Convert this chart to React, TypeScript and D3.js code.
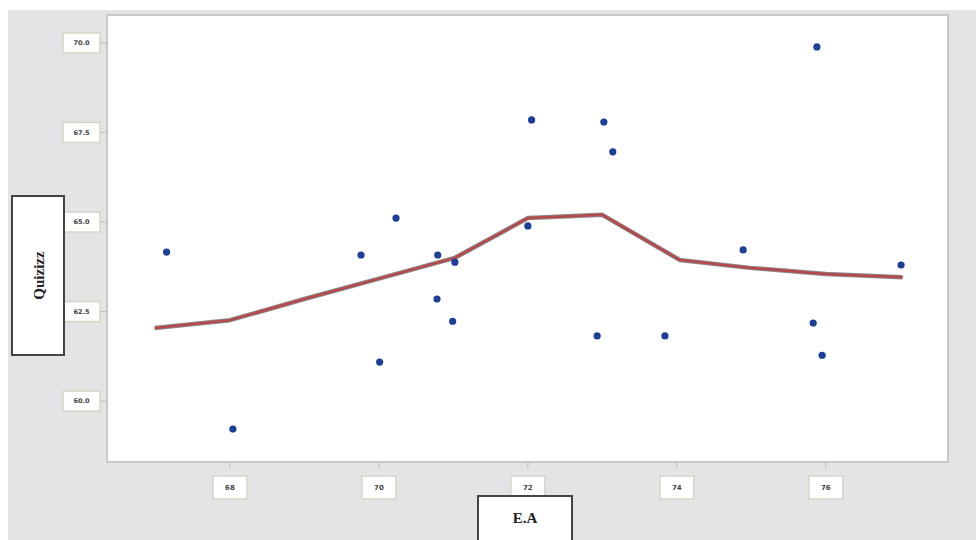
import React from "react";
import * as d3 from "d3";

const eaValues = [67.15, 68.04, 69.76, 70.01, 70.23, 70.79, 70.78, 71.02, 70.99, 72.0, 72.05, 72.93, 73.02, 73.14, 73.84, 74.89, 75.83, 75.88, 75.95, 77.01];
const quizizzValues = [64.16, 59.22, 64.08, 61.09, 65.11, 64.08, 62.85, 63.88, 62.23, 64.89, 67.85, 61.82, 67.79, 66.96, 61.82, 64.22, 62.18, 69.89, 61.28, 63.8];

const fitX = [66.99, 68.0, 69.0, 70.0, 71.02, 72.0, 73.0, 74.04, 74.98, 76.0, 77.03];
const fitY = [62.04, 62.26, 62.85, 63.42, 64.0, 65.11, 65.2, 63.94, 63.72, 63.55, 63.46];

const xTicks = [68, 70, 72, 74, 76];
const yTicks = [60, 62.5, 65, 67.5, 70];

export default function App() {
  const W = 976, H = 540;
  const left = 107, right = 948, top = 15, bottom = 462;
  const x = d3.scaleLinear().domain([66.35, 77.64]).range([left, right]);
  const y = d3.scaleLinear().domain([58.3, 70.78]).range([bottom, top]);
  const line = d3.line<number>().x((_, i) => x(fitX[i])).y((d) => y(d)).curve(d3.curveLinear);
  const path = line(fitY) || "";
  return (
    <svg width={W} height={H} style={{ position: "absolute", left: 0, top: 0 }}>
      <rect x={0} y={0} width={W} height={H} fill="#ffffff" />
      <rect x={8} y={10} width={W - 8} height={H - 10} fill="#e4e4e4" />
      <rect x={left} y={top} width={right - left} height={bottom - top} fill="#ffffff" stroke="#c8c8c8" strokeWidth={2} />
      {yTicks.map((t) => (
        <g key={"y" + t}>
          <line x1={left - 6} x2={left} y1={y(t)} y2={y(t)} stroke="#bbbbbb" />
          <rect x={63} y={y(t) - 10} width={37} height={20} fill="#ffffff" stroke="#cfd8c4" strokeWidth={1.5} />
          <text x={81.5} y={y(t)} dy="0.35em" textAnchor="middle" fontSize={6.5} fontWeight="bold" fontFamily="DejaVu Sans" fill="#444">
            {t.toFixed(1)}
          </text>
        </g>
      ))}
      {xTicks.map((t) => (
        <g key={"x" + t}>
          <line x1={x(t)} x2={x(t)} y1={bottom} y2={bottom + 6} stroke="#bbbbbb" />
          <rect x={x(t) - 17} y={476} width={34} height={23} fill="#ffffff" stroke="#cfd8c4" strokeWidth={1.5} />
          <text x={x(t)} y={488} dy="0.35em" textAnchor="middle" fontSize={7} fontWeight="bold" fontFamily="DejaVu Sans" fill="#444">
            {t}
          </text>
        </g>
      ))}
      <rect x={12} y={196} width={52} height={159} fill="#ffffff" stroke="#444" strokeWidth={2} />
      <text transform={`translate(44,${275.5}) rotate(-90)`} textAnchor="middle" fontSize={15} fontWeight="bold" fontFamily="Liberation Serif" fill="#222">
        Quizizz
      </text>
      <rect x={478} y={496} width={94} height={48} fill="#ffffff" stroke="#444" strokeWidth={2} />
      <text x={525} y={523} textAnchor="middle" fontSize={15} fontWeight="bold" fontFamily="Liberation Serif" fill="#222">
        E.A
      </text>
      <path d={path} fill="none" stroke="#8a8a8a" strokeWidth={4.5} strokeLinejoin="round" />
      <path d={path} fill="none" stroke="#b8474a" strokeWidth={2.5} strokeLinejoin="round" />
      {eaValues.map((v, i) => (
        <circle key={i} cx={x(v)} cy={y(quizizzValues[i])} r={3.6} fill="#1d3f9a" />
      ))}
    </svg>
  );
}
